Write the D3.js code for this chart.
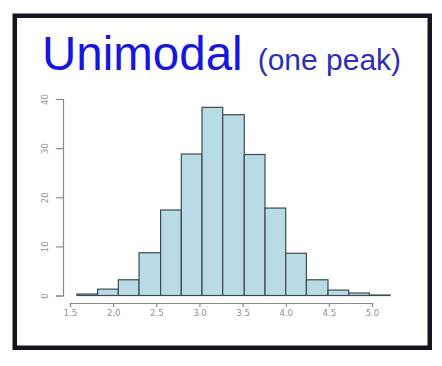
<!DOCTYPE html>
<html>
<head>
<meta charset="utf-8">
<script src="https://cdn.jsdelivr.net/npm/d3@7"></script>
<style>
  body { margin: 0; background: #fff; }
  svg { display: block; }
</style>
</head>
<body>
<script>
var w = 442,
    h = 366;

// histogram bins (edges, counts)
var binEdges = [1.58, 1.82, 2.06, 2.30, 2.55, 2.79, 3.03, 3.27, 3.52, 3.76, 4.00, 4.24, 4.49, 4.73, 4.97, 5.21];
var counts = [0.3, 1.3, 3.2, 8.7, 17.4, 28.8, 38.3, 36.8, 28.7, 17.8, 8.6, 3.2, 1.1, 0.5, 0.1];
var xTicks = [1.5, 2.0, 2.5, 3.0, 3.5, 4.0, 4.5, 5.0];
var yTicks = [0, 10, 20, 30, 40];

var bins = counts.map(function(c, i) {
  return { x0: binEdges[i], x1: binEdges[i + 1], count: c };
});

var svg = d3.select("body").append("svg")
    .attr("width", w)
    .attr("height", h);

// frame
svg.append("rect")
    .attr("x", 14.75)
    .attr("y", 15.75)
    .attr("width", 415)
    .attr("height", 332)
    .attr("fill", "#fff")
    .attr("stroke", "#15151f")
    .attr("stroke-width", 4.5);

// title
var title = svg.append("text")
    .attr("x", 42)
    .attr("y", 70)
    .style("font-family", "Liberation Sans, Arial, sans-serif");

title.append("tspan")
    .attr("fill", "#1616e0")
    .style("font-size", "47.5px")
    .text("Unimodal");

title.append("tspan")
    .attr("dx", 15)
    .attr("fill", "#2e2eb8")
    .style("font-size", "30px")
    .text("(one peak)");

var x = d3.scaleLinear().domain([1.5, 5.0]).range([70, 372]);
var y = d3.scaleLinear().domain([0, 40]).range([295.5, 99]);

// bars
svg.append("g").selectAll("rect")
    .data(bins)
  .enter().append("rect")
    .attr("x", function(d) { return x(d.x0); })
    .attr("y", function(d) { return y(d.count); })
    .attr("width", function(d) { return x(d.x1) - x(d.x0); })
    .attr("height", function(d) { return y(0) - y(d.count); })
    .attr("fill", "#b9dbe5")
    .attr("stroke", "#3c4b52")
    .attr("stroke-width", 1.2);

var axisColor = "#8a8a8a";

// x axis
var xAxis = svg.append("g")
    .attr("transform", "translate(0,303)")
    .call(d3.axisBottom(x).tickValues(xTicks).tickSize(4).tickPadding(3)
      .tickFormat(d3.format(".1f")));

// y axis, labels turned like R's default
var yAxis = svg.append("g")
    .attr("transform", "translate(63,0)")
    .call(d3.axisLeft(y).tickValues(yTicks).tickSize(7).tickPadding(4));

yAxis.selectAll(".tick text")
    .attr("transform", "translate(-18,0) rotate(-90)")
    .attr("x", 0)
    .attr("y", 0)
    .attr("dy", "0.35em")
    .style("text-anchor", "middle");

[xAxis, yAxis].forEach(function(a) {
  a.select(".domain").attr("stroke", axisColor).attr("stroke-width", 1.2);
  a.selectAll(".tick line").attr("stroke", axisColor).attr("stroke-width", 1.2);
  a.selectAll(".tick text")
    .attr("fill", "#909090")
    .style("font-family", "DejaVu Sans, sans-serif")
    .style("font-size", "8.5px");
});
</script>
</body>
</html>
